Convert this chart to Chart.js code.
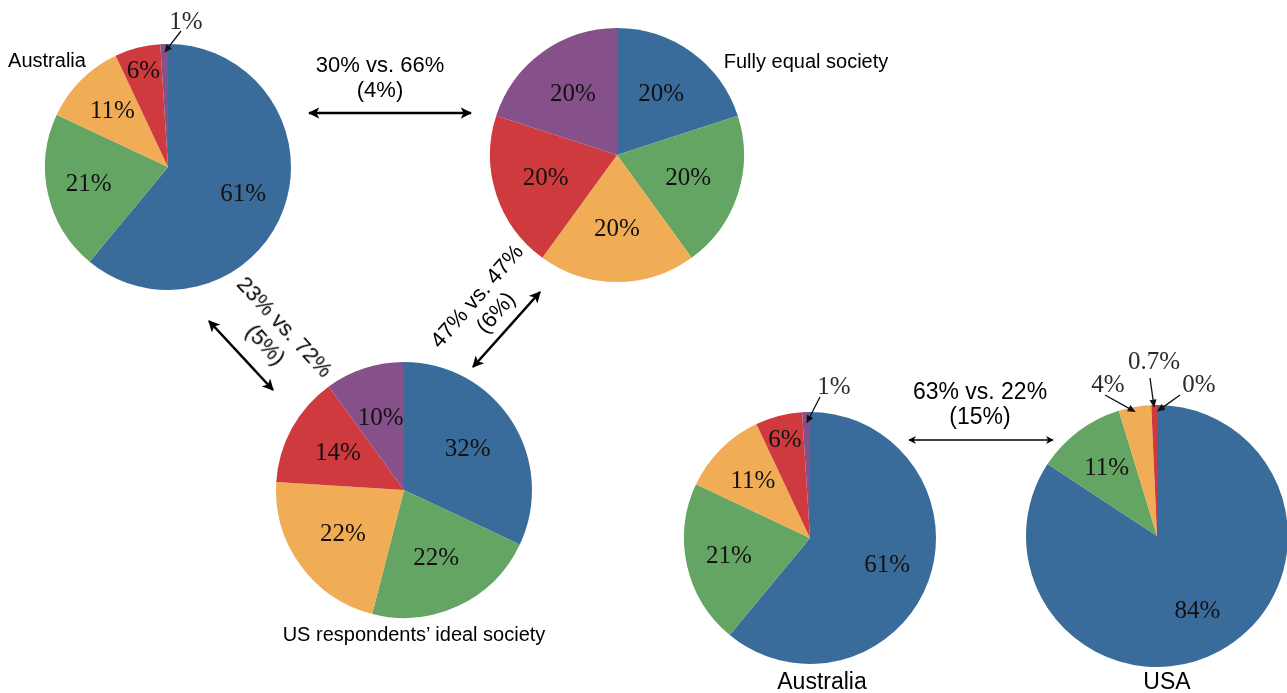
<!DOCTYPE html>
<html>
<head>
<meta charset="utf-8">
<script src="https://cdn.jsdelivr.net/npm/chart.js@4.4.1/dist/chart.umd.min.js"></script>
<style>
  html, body { margin:0; padding:0; background:#fff; }
  body { width:1287px; height:693px; overflow:hidden; position:relative; font-family:"Liberation Sans", Arial, sans-serif; }
  canvas.pie { position:absolute; }
  .t { position:absolute; white-space:nowrap; color:#000; text-align:center; transform:translate(-50%,-50%); }
  svg { position:absolute; left:0; top:0; }
</style>
</head>
<body>
<script>
// ---- data ----
const categories = ['Top 20%', 'Second 20%', 'Third 20%', 'Fourth 20%', 'Bottom 20%'];
const australiaValues = [61, 21, 11, 6, 1];
const equalValues = [20, 20, 20, 20, 20];
const usIdealValues = [32, 22, 22, 14, 10];
const usaValues = [84, 11, 4, 0.7, 0];
const sliceColors = ['#3a6c9b', '#65a563', '#f0ad56', '#cf3a3f', '#86518a'];

// ---- pie label plugin ----
const sliceLabels = {
  id: 'sliceLabels',
  afterDatasetsDraw(chart, args, opts) {
    const ctx = chart.ctx;
    const meta = chart.getDatasetMeta(0);
    const data = chart.data.datasets[0].data;
    ctx.save();
    ctx.textAlign = 'center';
    ctx.textBaseline = 'middle';
    meta.data.forEach((arc, i) => {
      const p = arc.getProps(['x', 'y', 'startAngle', 'endAngle', 'outerRadius'], true);
      const mid = (p.startAngle + p.endAngle) / 2;
      const text = data[i] + '%';
      const out = (opts.outside || []).find(o => o.index === i);
      if (out) {
        ctx.font = opts.font;
        ctx.fillStyle = opts.outsideColor;
        ctx.fillText(text, p.x + out.tx, p.y + out.ty);
        const x0 = p.x + out.ax, y0 = p.y + out.ay;
        const x1 = p.x + Math.cos(mid) * p.outerRadius * out.tip;
        const y1 = p.y + Math.sin(mid) * p.outerRadius * out.tip;
        const a = Math.atan2(y1 - y0, x1 - x0);
        ctx.strokeStyle = '#111';
        ctx.fillStyle = '#111';
        ctx.lineWidth = 1.3;
        ctx.beginPath();
        ctx.moveTo(x0, y0);
        ctx.lineTo(x1 - Math.cos(a) * 5, y1 - Math.sin(a) * 5);
        ctx.stroke();
        ctx.beginPath();
        ctx.moveTo(x1, y1);
        ctx.lineTo(x1 - Math.cos(a) * 8 + Math.sin(a) * 3.5, y1 - Math.sin(a) * 8 - Math.cos(a) * 3.5);
        ctx.lineTo(x1 - Math.cos(a) * 8 - Math.sin(a) * 3.5, y1 - Math.sin(a) * 8 + Math.cos(a) * 3.5);
        ctx.closePath();
        ctx.fill();
      } else if (data[i] > 0) {
        const f = (opts.radius && opts.radius[i] != null) ? opts.radius[i] : opts.defaultRadius;
        ctx.font = opts.font;
        ctx.fillStyle = opts.color;
        ctx.fillText(text, p.x + Math.cos(mid) * p.outerRadius * f, p.y + Math.sin(mid) * p.outerRadius * f);
      }
    });
    ctx.restore();
  }
};

const PAD = 60;
const pies = [
  { values: australiaValues, cx: 168, cy: 167, r: 123, radius: [0.65, 0.66, 0.64, 0.8], def: 0.65,
    outside: [{ index: 4, tx: 18, ty: -145, ax: 13, ay: -136, tip: 0.93 }] },
  { values: equalValues, cx: 617, cy: 155, r: 127, radius: [], def: 0.59, outside: [] },
  { values: usIdealValues, cx: 404, cy: 490, r: 128, radius: [], def: 0.59, outside: [] },
  { values: australiaValues, cx: 810, cy: 538, r: 126, radius: [0.65, 0.66, 0.64, 0.8], def: 0.65,
    outside: [{ index: 4, tx: 24, ty: -151, ax: 10, ay: -141, tip: 0.91 }] },
  { values: usaValues, cx: 1157, cy: 536, r: 131, radius: [0.65, 0.64], def: 0.65,
    outside: [
      { index: 2, tx: -49, ty: -151, ax: -52, ay: -141, tip: 0.96 },
      { index: 3, tx: -3, ty: -174, ax: -7, ay: -158, tip: 0.98 },
      { index: 4, tx: 42, ty: -151, ax: 23, ay: -141, tip: 0.95 }
    ] }
];

pies.forEach(pc => {
  const c = document.createElement('canvas');
  c.className = 'pie';
  const size = 2 * pc.r + 2 * PAD;
  c.width = size; c.height = size;
  c.style.width = size + 'px'; c.style.height = size + 'px';
  c.style.left = (pc.cx - pc.r - PAD) + 'px';
  c.style.top = (pc.cy - pc.r - PAD) + 'px';
  document.body.appendChild(c);
  new Chart(c, {
    type: 'pie',
    data: { labels: categories, datasets: [{ data: pc.values, backgroundColor: sliceColors, borderWidth: 0 }] },
    options: {
      responsive: false, animation: false, events: [],
      layout: { padding: PAD },
      plugins: {
        legend: { display: false }, tooltip: { enabled: false },
        sliceLabels: { font: '25px "Liberation Serif", "Times New Roman", serif', color: '#111', outsideColor: '#2b2b2b',
          radius: pc.radius, defaultRadius: pc.def, outside: pc.outside }
      }
    },
    plugins: [sliceLabels]
  });
});

// ---- titles and annotations ----
function addText(html, x, y, size, rot, lh) {
  const d = document.createElement('div');
  d.className = 't';
  d.innerHTML = html;
  d.style.left = x + 'px'; d.style.top = y + 'px';
  d.style.fontSize = size + 'px';
  d.style.lineHeight = (lh || size * 1.15) + 'px';
  if (rot) d.style.transform = 'translate(-50%,-50%) rotate(' + rot + 'deg)';
  document.body.appendChild(d);
}
addText('Australia', 47, 60, 20);
addText('Fully equal society', 806, 61, 20);
addText('US respondents’ ideal society', 414, 634, 20);
addText('Australia', 822, 681, 23);
addText('USA', 1167, 681, 23);
addText('30% vs. 66%<br>(4%)', 380, 77, 22, 0, 25);
addText('63% vs. 22%<br>(15%)', 980, 404, 23, 0, 25);
addText('23% vs. 72%<br>(5%)', 275, 336, 22, 47, 26);
addText('47% vs. 47%<br>(6%)', 486, 304, 22, -49, 25);
</script>
<svg width="1287" height="693" viewBox="0 0 1287 693">
  <defs>
    <marker id="hb" viewBox="0 0 10 10" refX="9" refY="5" markerWidth="4.6" markerHeight="4.6" orient="auto-start-reverse" markerUnits="strokeWidth">
      <path d="M0,0 L10,5 L0,10 L2.5,5 z" fill="#000"/>
    </marker>
    <marker id="hs" viewBox="0 0 10 10" refX="9" refY="5" markerWidth="7" markerHeight="6" orient="auto-start-reverse" markerUnits="strokeWidth">
      <path d="M0,0 L10,5 L0,10 L3,5 z" fill="#000"/>
    </marker>
  </defs>
  <line x1="309" y1="113" x2="471" y2="113" stroke="#000" stroke-width="2.5" marker-start="url(#hb)" marker-end="url(#hb)"/>
  <line x1="209" y1="321" x2="273" y2="390" stroke="#000" stroke-width="2.5" marker-start="url(#hb)" marker-end="url(#hb)"/>
  <line x1="473" y1="367" x2="540" y2="292" stroke="#000" stroke-width="2.5" marker-start="url(#hb)" marker-end="url(#hb)"/>
  <line x1="909" y1="440" x2="1053" y2="440" stroke="#000" stroke-width="1.3" marker-start="url(#hs)" marker-end="url(#hs)"/>
</svg>
</body>
</html>
